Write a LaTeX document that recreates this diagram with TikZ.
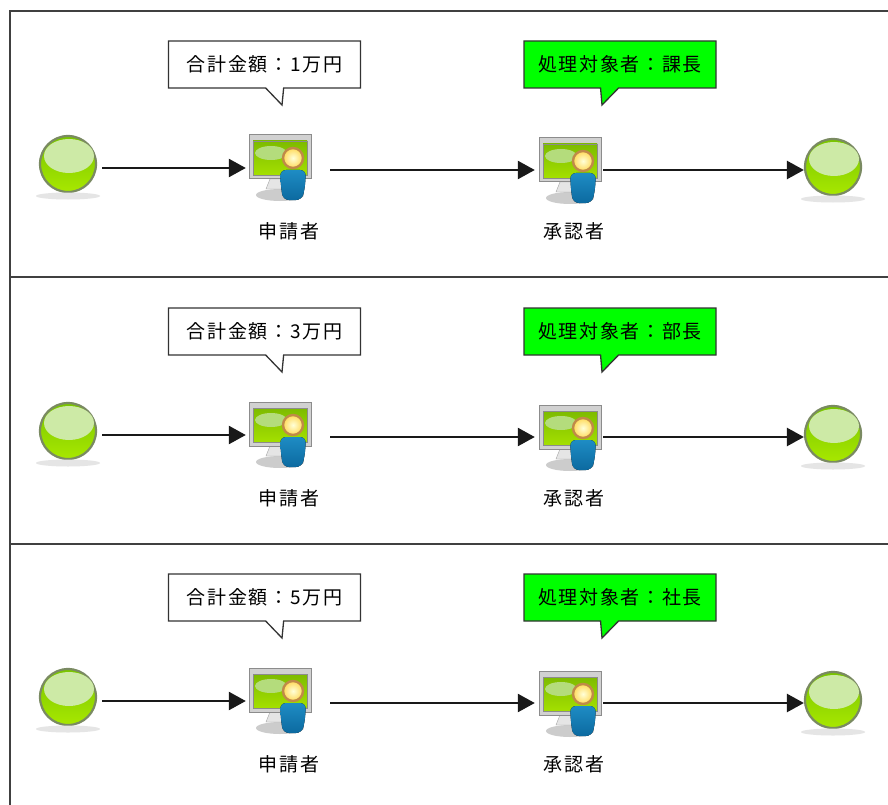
\documentclass[tikz,border=0pt]{standalone}
\usepackage{fontspec}
\newfontfamily\jpfont[LetterSpace=9]{Noto Sans CJK JP}
\usetikzlibrary{positioning}
\usetikzlibrary{shapes.callouts}
\usetikzlibrary{arrows.meta}
\definecolor{ballrim}{HTML}{7A8A62}
\definecolor{balltop}{HTML}{78C400}
\definecolor{ballbottom}{HTML}{A8E800}
\definecolor{ballgloss}{HTML}{CDEAA6}
\definecolor{screentop}{HTML}{7DBB00}
\definecolor{screenbottom}{HTML}{A4E000}
\definecolor{screengloss}{HTML}{B4DC7C}
\definecolor{bodytop}{HTML}{1E8CC4}
\definecolor{bodybottom}{HTML}{0C6AA0}
\definecolor{headrim}{HTML}{C08A48}

\begin{document}
\begin{tikzpicture}[x=1pt,y=-1pt,node distance=30pt,
	frame line/.style={draw=black!75,line width=1.3pt},
	main edge/.style={-{Triangle[length=17pt,width=18pt]},line width=2.5pt,black!90},
	ball node/.style={circle,draw=ballrim,line width=2.2pt,minimum size=56pt,inner sep=0pt,
		top color=balltop,bottom color=ballbottom},
	icon node/.style={minimum height=48pt,inner sep=0pt},
	name node/.style={font=\jpfont\fontsize{19}{22}\selectfont,inner sep=0pt},
	note node/.style={rectangle callout,draw=black!80,line width=1.3pt,minimum width=192pt,minimum height=47pt,
		inner sep=0pt,callout pointer width=18pt,font=\jpfont\fontsize{19}{22}\selectfont},
	ballgloss/.pic={
		\fill[black!10] (0,32) ellipse (32 and 3.5);
		\fill[ballgloss] (1,-8) ellipse (25 and 17);
	},
	deskicon/.pic={
		\fill[black!20] (0,38) ellipse (24 and 6);
		\fill[black!10,draw=black!35] (-10,22) -- (8,22) -- (12,32) -- (-14,32) -- cycle;
		\fill[black!18,draw=black!45,line width=1pt] (-31,-22) rectangle (31,22);
		\fill[top color=screentop,bottom color=screenbottom,draw=black!45] (-27,-16) rectangle (27,18);
		\fill[screengloss] (-9,-4) ellipse (16 and 7);
		\fill[top color=bodytop,bottom color=bodybottom,rounded corners=6pt]
			(0,13) -- (26,13) -- (25,30) -- (22,43) -- (3,43) -- (1,30) -- cycle;
		\fill[draw=headrim,line width=2.4pt,inner color=yellow!15!white,outer color=orange!45!yellow!65!white] (13,1) circle (10);
	}]
	
	\path[use as bounding box,fill=white] (0,0) rectangle (888,805);
	
	\coordinate (topleft) at (10,11);
	\coordinate (topright) at (888,11);
	\coordinate (bottomleft) at (10,805);
	\coordinate (midleft) at (10,277);
	\coordinate (midright) at (888,277);
	\coordinate (lowleft) at (10,544);
	\coordinate (lowright) at (888,544);
	\path[frame line] (bottomleft) -- (topleft) -- (topright)
	(midleft) -- (midright)
	(lowleft) -- (lowright);
	
	\foreach \r/\off/\amount/\boss in {1/0/1/課長,2/267/3/部長,3/533/5/社長} {
		\node[ball node] (start\r) at (68,164+\off) {};
		\node[icon node,minimum width=84pt] (apply\r) at (288,168+\off) {};
		\node[icon node,minimum width=68pt] (check\r) at (569,170+\off) {};
		\node[ball node] (end\r) at (833,167+\off) {};
		\pic at (start\r) {ballgloss};
		\pic at (end\r) {ballgloss};
		\pic at (280,157+\off) {deskicon};
		\pic at (570,160+\off) {deskicon};
		\node[name node] (applyname\r) [below=of apply\r,xshift=1pt] {申請者};
		\node[name node] (checkname\r) [below=28pt of check\r,xshift=5pt] {承認者};
		\node[note node,callout absolute pointer={(282,105+\off)}] (money\r) at (264.5,64.5+\off) {合計金額：\amount 万円};
		\node[note node,fill=green,callout absolute pointer={(602,105+\off)}] (target\r) at (620,64.5+\off) {処理対象者：\boss};
		
		\path[main edge,shorten <=5pt]
		(start\r.east |- apply\r.west) edge (apply\r.west);
		\path[main edge]
		(apply\r.east |- check\r.west) edge (check\r.west)
		(check\r.east) edge (end\r.west |- check\r.east);
	}
\end{tikzpicture}
\end{document}
